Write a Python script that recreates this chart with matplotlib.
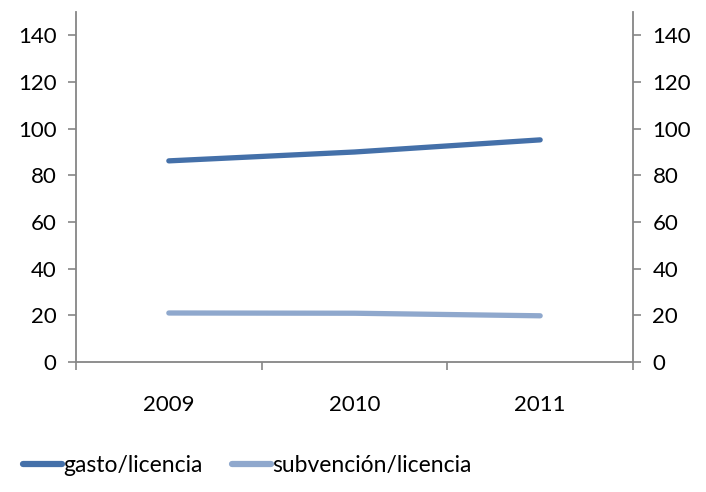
import matplotlib
matplotlib.use("Agg")
import matplotlib.pyplot as plt
from matplotlib.ticker import FixedLocator, NullFormatter

years = ["2009", "2010", "2011"]
gasto = [86.2, 90.0, 95.2]
subvencion = [21.0, 20.9, 19.8]
series_names = ["gasto/licencia", "subvención/licencia"]
yticks = [0, 20, 40, 60, 80, 100, 120, 140]

plt.rcParams['font.family'] = ['Lato', 'DejaVu Sans']
fig = plt.figure(figsize=(7.06, 4.92), dpi=100)
ax = fig.add_axes([76/706, 1-362/492, (633-76)/706, (362-12)/492])

x = [i + 0.5 for i in range(len(years))]
c1 = "#4470A9"
c2 = "#8FA8CD"
l1, = ax.plot(x, gasto, color=c1, lw=3.8, solid_capstyle='round', label=series_names[0])
l2, = ax.plot(x, subvencion, color=c2, lw=3.8, solid_capstyle='round', label=series_names[1])

ax.set_xlim(0, len(years))
ax.set_ylim(0, 150)
ax.xaxis.set_major_locator(FixedLocator(range(len(years) + 1)))
ax.xaxis.set_major_formatter(NullFormatter())
ax.xaxis.set_minor_locator(FixedLocator(x))
ax.set_xticklabels(years, minor=True)
ax.tick_params(axis='x', which='major', length=6, color="#868686", width=1.2, direction='out')
ax.tick_params(axis='x', which='minor', length=0, pad=24, labelsize=16)
ax.set_yticks(yticks)
ax.tick_params(axis='y', length=6, color="#868686", width=1.2, labelsize=16, pad=8)

for s in ['top', 'right']:
    ax.spines[s].set_visible(False)
for s in ['left', 'bottom']:
    ax.spines[s].set_color("#868686")
    ax.spines[s].set_linewidth(1.3)

ax2 = ax.twinx()
ax2.set_ylim(0, 150)
ax2.set_yticks(yticks)
ax2.tick_params(axis='y', length=6, color="#868686", width=1.2, labelsize=16, pad=8)
for s in ['top', 'left', 'bottom']:
    ax2.spines[s].set_visible(False)
ax2.spines['right'].set_color("#868686")
ax2.spines['right'].set_linewidth(1.3)

leg = fig.legend(handles=[l1, l2], loc='center', bbox_to_anchor=(0.35, 0.053), ncol=2,
                 frameon=False, fontsize=16.5, handlelength=1.7, handletextpad=0.05,
                 columnspacing=1.3)
for h in leg.legend_handles:
    h.set_linewidth(4.5)

fig.savefig("out.png", dpi=100)
